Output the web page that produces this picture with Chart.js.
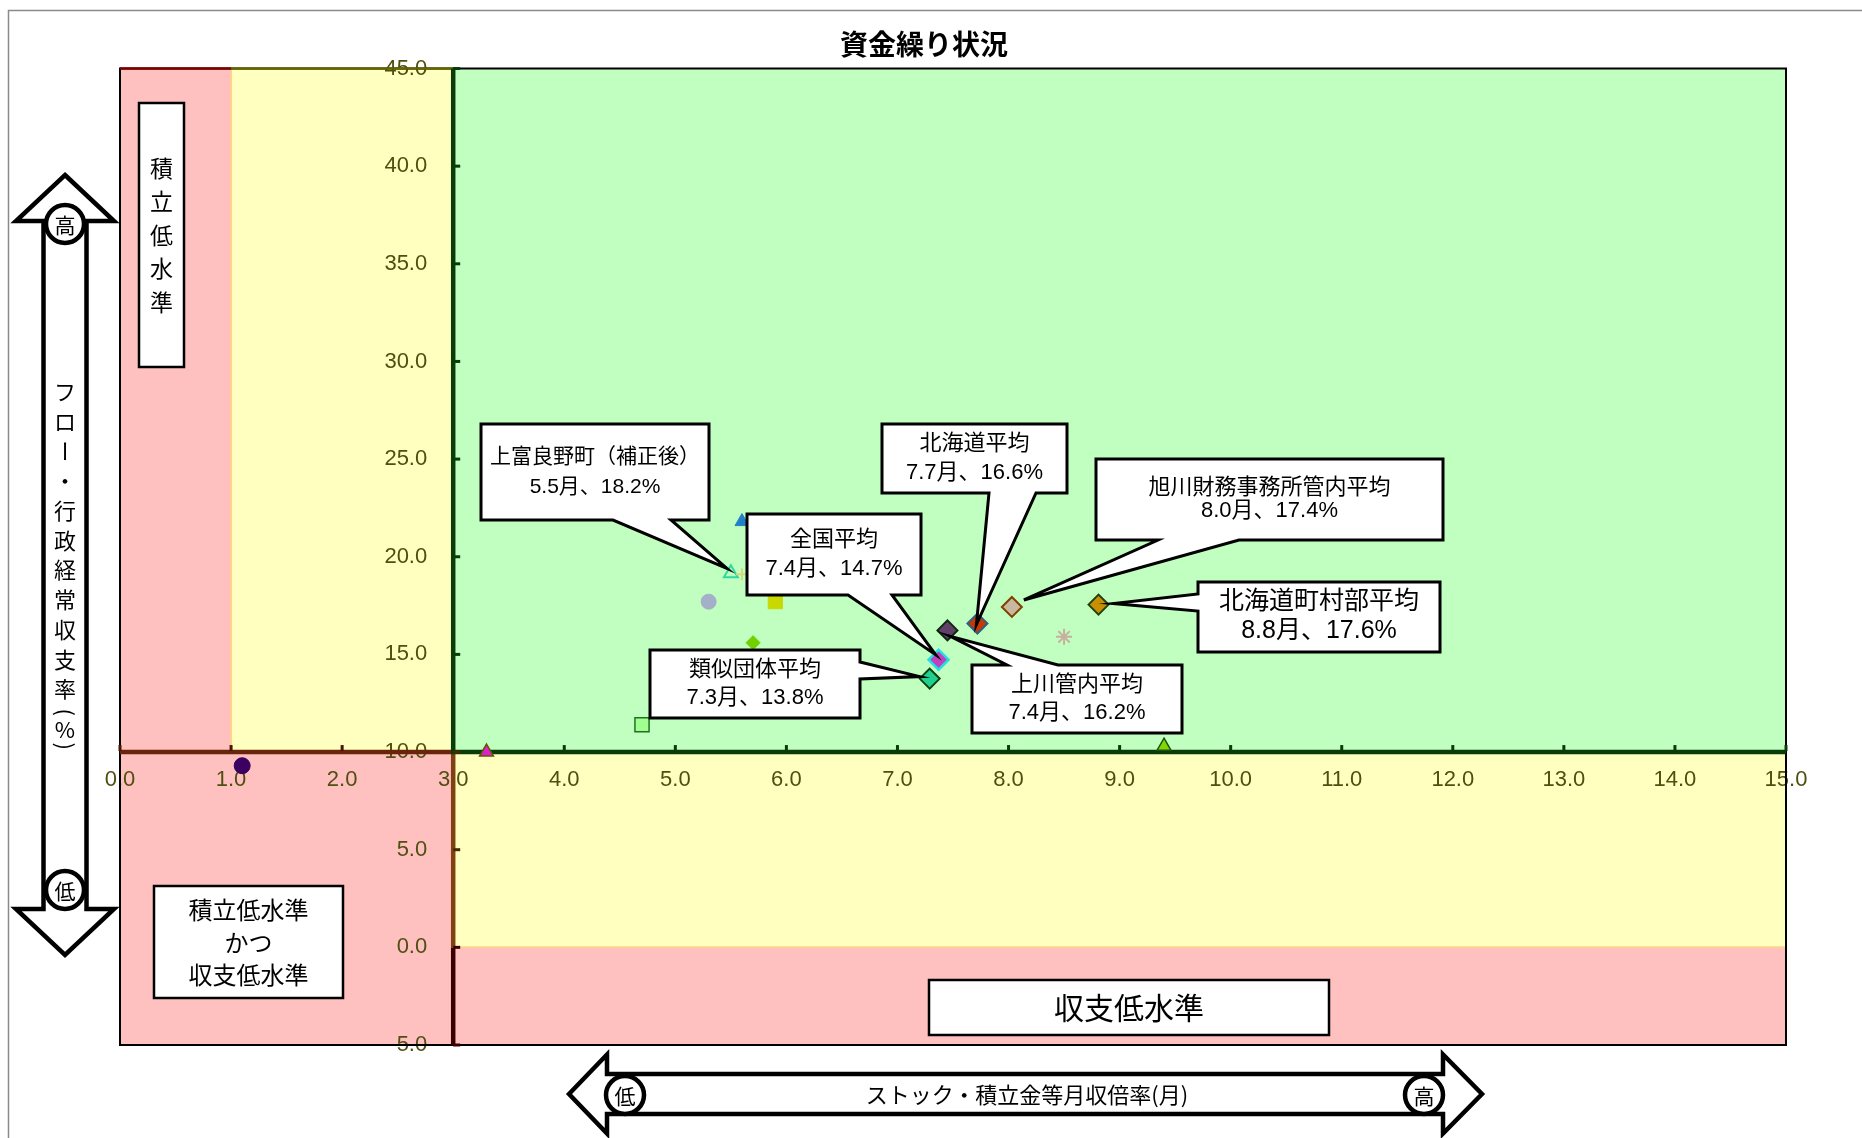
<!DOCTYPE html>
<html>
<head>
<meta charset="utf-8">
<script src="https://cdn.jsdelivr.net/npm/chart.js@4.4.1/dist/chart.umd.min.js"></script>
<style>
  html, body { margin: 0; padding: 0; background: #fff; }
  #wrap { width: 1862px; height: 1138px; position: relative; }
</style>
</head>
<body>
<div id="wrap"><canvas id="myChart"></canvas></div>
<script>
// values (x = 月, y = %)
var pointNames = ['a', 'b', 'c', 'd', '上富良野町', 'e', 'f', 'g', 'h',
  '類似団体平均', '全国平均', '上川管内平均', '北海道平均', '旭川財務事務所管内平均', '北海道町村部平均', 'i', 'j'];
var xValues = [1.1, 3.3, 4.7, 5.3, 5.5, 5.6, 5.6, 5.9, 5.7, 7.29, 7.37, 7.45, 7.72, 8.03, 8.81, 8.5, 9.4];
var yValues = [9.3, 10.0, 11.4, 17.7, 19.15, 19.1, 21.8, 17.7, 15.6, 13.76, 14.73, 16.23, 16.58, 17.43, 17.55, 15.9, 10.3];

var xTicks = { min: 0, max: 15, step: 1 };
var yTicks = { min: -5, max: 45, step: 5 };

// callout texts and which point they refer to
var calloutNames = ['上富良野町（補正後）', '全国平均', '類似団体平均', '北海道平均', '旭川財務事務所管内平均', '北海道町村部平均', '上川管内平均'];
var calloutValues = ['5.5月、18.2%', '7.4月、14.7%', '7.3月、13.8%', '7.7月、16.6%', '8.0月、17.4%', '8.8月、17.6%', '7.4月、16.2%'];
var calloutPoint = [4, 10, 9, 12, 13, 14, 11];

// marker looks, same order as the values
var markers = [
  { s: 'circle', r: 8, bg: '#3c0060', bd: '#3c0060', w: 1 },
  { s: 'triangle', r: 8, bg: '#e020c8', bd: '#5a5a00', w: 1.5 },
  { s: 'rect', r: 10, bg: '#a0ff90', bd: '#207020', w: 1.5 },
  { s: 'circle', r: 7.5, bg: '#a4b0c8', bd: '#a4b0c8', w: 1 },
  { s: 'triangle', r: 8, bg: 'rgba(0,0,0,0)', bd: '#30d8a0', w: 2 },
  { s: 'cross', r: 6, bg: '#d8d880', bd: '#d8d880', w: 2 },
  { s: 'triangle', r: 8, bg: '#2080c8', bd: '#2080c8', w: 1 },
  { s: 'rect', r: 10, bg: '#c8d800', bd: '#c8d800', w: 1 },
  { s: 'rectRot', r: 7, bg: '#70d000', bd: '#70d000', w: 1 },
  { s: 'rectRot', r: 10, bg: '#20d090', bd: '#104010', w: 2 },
  { s: 'rectRot', r: 10, bg: '#c040c0', bd: '#20e0e0', w: 2.5 },
  { s: 'rectRot', r: 10, bg: '#604068', bd: '#102810', w: 2 },
  { s: 'rectRot', r: 10, bg: '#c83800', bd: '#306080', w: 2 },
  { s: 'rectRot', r: 10, bg: '#c8b8a0', bd: '#804000', w: 2 },
  { s: 'rectRot', r: 10, bg: '#c89000', bd: '#204010', w: 2 },
  { s: 'star', r: 8, bg: '#c8b0a0', bd: '#c8b0a0', w: 2 },
  { s: 'triangle', r: 8, bg: '#80d800', bd: '#205010', w: 1.5 }
];

// coloured zones (data units)
var zones = [
  { x0: 0, x1: 1, y0: 10, y1: 45, c: '#ffc0c0' },
  { x0: 1, x1: 3, y0: 10, y1: 45, c: '#ffffc0' },
  { x0: 3, x1: 15, y0: 10, y1: 45, c: '#c0ffc0' },
  { x0: 0, x1: 3, y0: -5, y1: 10, c: '#ffc0c0' },
  { x0: 3, x1: 15, y0: 0, y1: 10, c: '#ffffc0' },
  { x0: 3, x1: 15, y0: -5, y1: 0, c: '#ffc0c0' }
];

// callout boxes, pixel layout
var calloutBoxes = [
  { box: [481, 424, 709, 520], side: 'bottom', base: [613, 671], off: [-4, -5], size: 21, gap: 30 },
  { box: [747, 514, 921, 595], side: 'bottom', base: [848, 892], off: [-3, -5], size: 22, gap: 29 },
  { box: [650, 650, 860, 718], side: 'right', base: [662, 679], off: [-10, -2], size: 22, gap: 28 },
  { box: [882, 424, 1067, 493], side: 'bottom', base: [989, 1036], off: [-1, 1], size: 22, gap: 29 },
  { box: [1096, 459, 1443, 540], side: 'bottom', base: [1158, 1239], off: [12, -7], size: 22, gap: 23 },
  { box: [1198, 582, 1440, 652], side: 'left', base: [594, 611], off: [15, -1], size: 25, gap: 29 },
  { box: [972, 665, 1182, 733], side: 'top', base: [1007, 1058], off: [3, 6], size: 22, gap: 28 }
];

var NUM_FONT = "'Liberation Sans Narrow', 'Liberation Sans', 'Noto Sans CJK JP', sans-serif";
var JP_FONT = "'Noto Sans CJK JP', sans-serif";
var LABEL_COLOR = '#4f4f10';

function drawCallout(ctx, c, tip) {
  var l = c.box[0], t = c.box[1], r = c.box[2], b = c.box[3];
  ctx.beginPath();
  ctx.moveTo(l, t);
  if (c.side === 'top') { ctx.lineTo(c.base[0], t); ctx.lineTo(tip.x, tip.y); ctx.lineTo(c.base[1], t); }
  ctx.lineTo(r, t);
  if (c.side === 'right') { ctx.lineTo(r, c.base[0]); ctx.lineTo(tip.x, tip.y); ctx.lineTo(r, c.base[1]); }
  ctx.lineTo(r, b);
  if (c.side === 'bottom') { ctx.lineTo(c.base[1], b); ctx.lineTo(tip.x, tip.y); ctx.lineTo(c.base[0], b); }
  ctx.lineTo(l, b);
  if (c.side === 'left') { ctx.lineTo(l, c.base[1]); ctx.lineTo(tip.x, tip.y); ctx.lineTo(l, c.base[0]); }
  ctx.closePath();
  ctx.fillStyle = '#fff';
  ctx.fill();
  ctx.lineWidth = 3;
  ctx.lineJoin = 'miter';
  ctx.strokeStyle = '#000';
  ctx.stroke();
}

function plainBox(ctx, l, t, r, b) {
  ctx.fillStyle = '#fff';
  ctx.fillRect(l, t, r - l, b - t);
  ctx.lineWidth = 2.5;
  ctx.strokeStyle = '#000';
  ctx.strokeRect(l, t, r - l, b - t);
}

function circleLabel(ctx, x, y, r, txt) {
  ctx.beginPath();
  ctx.arc(x, y, r, 0, Math.PI * 2);
  ctx.fillStyle = '#fff';
  ctx.fill();
  ctx.lineWidth = 4.5;
  ctx.strokeStyle = '#000';
  ctx.stroke();
  ctx.fillStyle = '#000';
  ctx.font = '21px ' + JP_FONT;
  ctx.textAlign = 'center';
  ctx.textBaseline = 'middle';
  ctx.fillText(txt, x, y + 1);
}

var decor = {
  id: 'decor',
  beforeDraw: function(chart) {
    var ctx = chart.ctx, xs = chart.scales.x, ys = chart.scales.y;
    ctx.save();
    zones.forEach(function(z) {
      var x0 = xs.getPixelForValue(z.x0), x1 = xs.getPixelForValue(z.x1);
      var y0 = ys.getPixelForValue(z.y0), y1 = ys.getPixelForValue(z.y1);
      ctx.fillStyle = z.c;
      ctx.fillRect(x0, y1, x1 - x0, y0 - y1);
    });
    // soft zone edges
    ctx.strokeStyle = '#ffd090';
    ctx.lineWidth = 2;
    ctx.beginPath();
    ctx.moveTo(xs.getPixelForValue(1), ys.getPixelForValue(45));
    ctx.lineTo(xs.getPixelForValue(1), ys.getPixelForValue(10));
    ctx.moveTo(xs.getPixelForValue(3), ys.getPixelForValue(0));
    ctx.lineTo(xs.getPixelForValue(15), ys.getPixelForValue(0));
    ctx.stroke();
    ctx.restore();
  },
  beforeDatasetsDraw: function(chart) {
    var ctx = chart.ctx, xs = chart.scales.x, ys = chart.scales.y, a = chart.chartArea;
    var ax = xs.getPixelForValue(3), ay = ys.getPixelForValue(10);
    ctx.save();
    // plot border
    ctx.lineWidth = 2;
    ctx.strokeStyle = '#000';
    ctx.strokeRect(a.left, a.top, a.right - a.left, a.bottom - a.top);
    ctx.lineWidth = 2.5;
    ctx.strokeStyle = '#800000';
    ctx.beginPath(); ctx.moveTo(a.left, a.top); ctx.lineTo(xs.getPixelForValue(1), a.top); ctx.stroke();
    ctx.strokeStyle = '#666600';
    ctx.beginPath(); ctx.moveTo(xs.getPixelForValue(1), a.top); ctx.lineTo(ax, a.top); ctx.stroke();

    // axis lines, coloured by zone
    ctx.lineWidth = 4.5;
    ctx.lineCap = 'butt';
    var segs = [
      [ax, ys.getPixelForValue(-5), ax, ys.getPixelForValue(0), '#3a0000'],
      [ax, ys.getPixelForValue(0), ax, ay, '#7e4210'],
      [xs.getPixelForValue(0), ay, ax, ay, '#6a240a'],
      [ax, ys.getPixelForValue(45), ax, ay + 2, '#0a3c0a'],
      [ax - 2, ay, xs.getPixelForValue(15), ay, '#0a3c0a']
    ];
    segs.forEach(function(s) {
      ctx.strokeStyle = s[4];
      ctx.beginPath(); ctx.moveTo(s[0], s[1]); ctx.lineTo(s[2], s[3]); ctx.stroke();
    });
    // tick marks
    xs.ticks.forEach(function(t) {
      var x = xs.getPixelForValue(t.value);
      ctx.fillStyle = t.value < 3 ? '#4a1500' : '#0a3c0a';
      ctx.fillRect(x - 1.5, ay - 7, 3, 6);
    });
    ys.ticks.forEach(function(t) {
      var y = ys.getPixelForValue(t.value);
      ctx.fillStyle = t.value > 10 ? '#0a3c0a' : (t.value > 0 ? '#4a2a00' : '#3a0000');
      ctx.fillRect(ax, y - 1.5, 7, 3);
    });
    ctx.restore();
  },
  afterDatasetsDraw: function(chart) {
    var ctx = chart.ctx, xs = chart.scales.x, ys = chart.scales.y;
    ctx.save();
    calloutBoxes.forEach(function(c, i) {
      var p = calloutPoint[i];
      var tip = { x: xs.getPixelForValue(xValues[p]) + c.off[0], y: ys.getPixelForValue(yValues[p]) + c.off[1] };
      drawCallout(ctx, c, tip);
      var cx = (c.box[0] + c.box[2]) / 2, cy = (c.box[1] + c.box[3]) / 2;
      ctx.fillStyle = '#000';
      ctx.textAlign = 'center';
      ctx.textBaseline = 'middle';
      ctx.font = c.size + 'px ' + NUM_FONT;
      ctx.fillText(calloutNames[i], cx, cy - c.gap / 2);
      ctx.fillText(calloutValues[i], cx, cy + c.gap / 2);
    });
    ctx.restore();
  },
  afterDraw: function(chart) {
    var ctx = chart.ctx;
    ctx.save();
    // outer frame
    ctx.strokeStyle = '#8a8a8a';
    ctx.lineWidth = 1.5;
    ctx.beginPath(); ctx.moveTo(8.5, 1138); ctx.lineTo(8.5, 10.5); ctx.lineTo(1862, 10.5); ctx.stroke();

    // title
    ctx.fillStyle = '#000';
    ctx.font = 'bold 28px ' + JP_FONT;
    ctx.textAlign = 'center';
    ctx.textBaseline = 'middle';
    ctx.fillText('資金繰り状況', 924, 44);

    // zone boxes
    plainBox(ctx, 139, 103, 184, 367);
    ctx.fillStyle = '#000';
    ctx.font = '23px ' + JP_FONT;
    ctx.textAlign = 'center';
    ctx.textBaseline = 'middle';
    var vt = '積立低水準';
    for (var i = 0; i < vt.length; i++) ctx.fillText(vt[i], 161.5, 168 + i * 33.5);

    plainBox(ctx, 154, 886, 343, 998);
    ctx.fillStyle = '#000';
    ctx.font = '24px ' + JP_FONT;
    ctx.fillText('積立低水準', 248.5, 910);
    ctx.fillText('かつ', 248.5, 943);
    ctx.fillText('収支低水準', 248.5, 975);

    plainBox(ctx, 929, 980, 1329, 1035);
    ctx.fillStyle = '#000';
    ctx.font = '30px ' + JP_FONT;
    ctx.fillText('収支低水準', 1129, 1008);

    // vertical double arrow
    ctx.beginPath();
    ctx.moveTo(65, 175); ctx.lineTo(114, 221); ctx.lineTo(86.5, 221); ctx.lineTo(86.5, 909);
    ctx.lineTo(114, 909); ctx.lineTo(65, 955); ctx.lineTo(16, 909); ctx.lineTo(43.5, 909);
    ctx.lineTo(43.5, 221); ctx.lineTo(16, 221); ctx.closePath();
    ctx.fillStyle = '#fff'; ctx.fill();
    ctx.lineWidth = 4.5; ctx.lineJoin = 'miter'; ctx.strokeStyle = '#000'; ctx.stroke();
    circleLabel(ctx, 65, 224, 19, '高');
    circleLabel(ctx, 65, 890, 19, '低');
    var yl = 'フロー・行政経常収支率(%)';
    var cur = 377;
    ctx.fillStyle = '#000';
    ctx.font = '22px ' + JP_FONT;
    for (var j = 0; j < yl.length; j++) {
      var ch = yl[j];
      var adv = (ch === '(' || ch === ')' || ch === '%') ? 17 : 29.7;
      var cy = cur + adv / 2;
      cur += adv;
      if (ch === 'ー' || ch === '(' || ch === ')') {
        ctx.save(); ctx.translate(65, cy); ctx.rotate(Math.PI / 2);
        ctx.fillText(ch, 0, 0); ctx.restore();
      } else {
        ctx.fillText(ch, 65, cy);
      }
    }

    // horizontal double arrow
    ctx.beginPath();
    ctx.moveTo(569, 1094); ctx.lineTo(607, 1054.5); ctx.lineTo(607, 1074); ctx.lineTo(1443, 1074);
    ctx.lineTo(1443, 1054.5); ctx.lineTo(1482, 1094); ctx.lineTo(1443, 1133.5); ctx.lineTo(1443, 1114);
    ctx.lineTo(607, 1114); ctx.lineTo(607, 1133.5); ctx.closePath();
    ctx.fillStyle = '#fff'; ctx.fill();
    ctx.lineWidth = 4.5; ctx.strokeStyle = '#000'; ctx.stroke();
    circleLabel(ctx, 625, 1095, 19, '低');
    circleLabel(ctx, 1424, 1095, 19, '高');
    ctx.fillStyle = '#000';
    ctx.font = '22px ' + JP_FONT;
    ctx.fillText('ストック・積立金等月収倍率(月)', 1027, 1095);
    ctx.restore();
  }
};

var points = xValues.map(function(x, i) { return { x: x, y: yValues[i] }; });

var ctx = document.getElementById('myChart').getContext('2d');
var myChart = new Chart(ctx, {
  type: 'scatter',
  data: {
    datasets: [{
      label: '資金繰り状況',
      data: points,
      pointStyle: markers.map(function(m) { return m.s; }),
      pointRadius: markers.map(function(m) { return m.r; }),
      pointBackgroundColor: markers.map(function(m) { return m.bg; }),
      pointBorderColor: markers.map(function(m) { return m.bd; }),
      pointBorderWidth: markers.map(function(m) { return m.w; })
    }]
  },
  options: {
    responsive: true,
    maintainAspectRatio: false,
    animation: false,
    events: [],
    layout: { padding: { left: 120, right: 76, top: 68.5, bottom: 93 } },
    plugins: {
      legend: { display: false },
      title: { display: false },
      tooltip: { enabled: false }
    },
    scales: {
      x: {
        type: 'linear',
        min: xTicks.min,
        max: xTicks.max,
        position: { y: 10 },
        grid: { display: false },
        border: { display: false },
        ticks: {
          stepSize: xTicks.step,
          autoSkip: false,
          maxRotation: 0,
          padding: 7,
          color: LABEL_COLOR,
          font: { size: 22, family: NUM_FONT },
          callback: function(v) { return Number(v).toFixed(1); }
        },
        afterFit: function(s) { s.height = 0; }
      },
      y: {
        type: 'linear',
        min: yTicks.min,
        max: yTicks.max,
        position: { x: 2.766 },
        grid: { display: false },
        border: { display: false },
        ticks: {
          stepSize: yTicks.step,
          padding: 0,
          color: LABEL_COLOR,
          font: { size: 22, family: NUM_FONT },
          callback: function(v) { return Math.abs(v).toFixed(1); }
        },
        afterFit: function(s) { s.width = 0; }
      }
    }
  },
  plugins: [decor]
});
</script>
</body>
</html>
